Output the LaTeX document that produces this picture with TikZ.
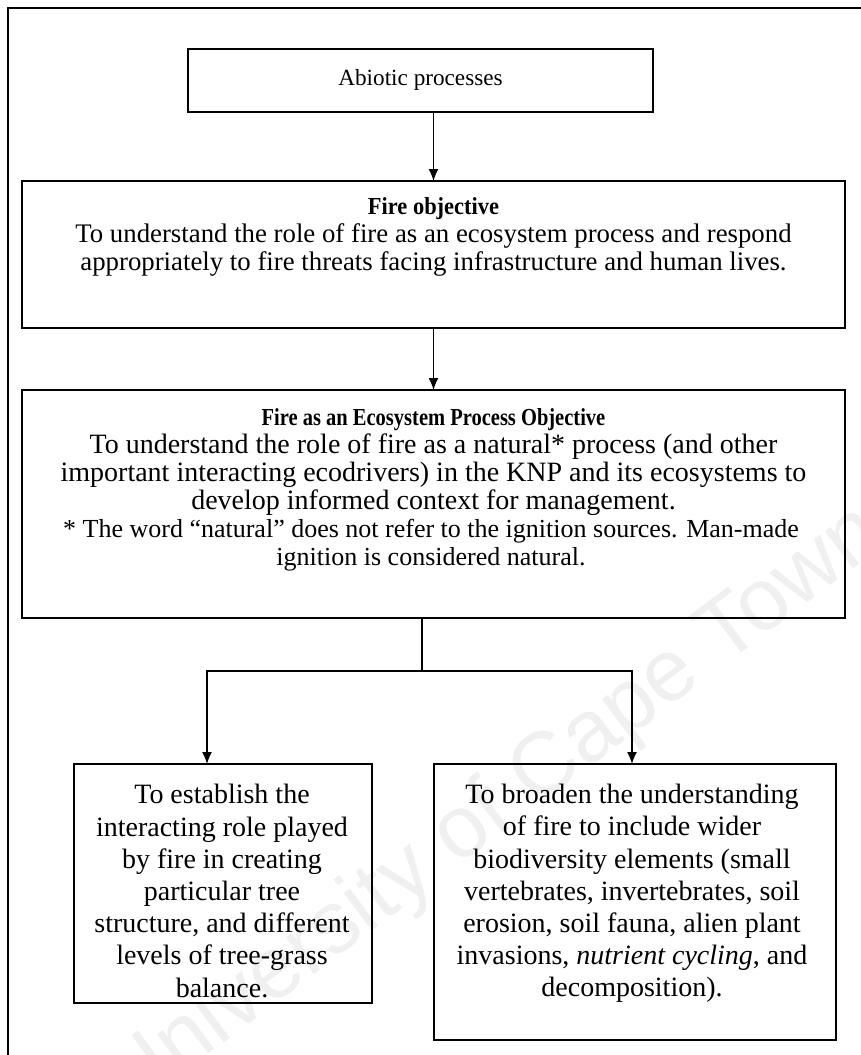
\documentclass[tikz,border=0pt]{standalone}
\usepackage{graphicx}
\usepackage{fontspec}
\setmainfont{Liberation Serif}
\newfontfamily\wmfont{Liberation Sans}
\usetikzlibrary{arrows.meta}

% bold heading of a box, set slightly narrow
\newcommand\boxtitle[2]{\scalebox{#1}[1]{\fontsize{12.2}{13.9}\selectfont\textbf{#2}}}

\tikzset{
  frameline/.style={line width=0.8pt, black},
  box/.style={draw, line width=0.8pt, inner sep=0pt, outer sep=0pt},
  txtsmall/.style={inner sep=0pt, align=center, font=\fontsize{11.6}{13.9}\selectfont},
  txtmid/.style={inner sep=0pt, align=center, font=\fontsize{13.4}{13.9}\selectfont},
  txt/.style={inner sep=0pt, align=center, font=\fontsize{14}{13.9}\selectfont},
  txtwide/.style={inner sep=0pt, align=center, font=\fontsize{14}{16.1}\selectfont},
  note/.style={inner sep=0pt, align=center, font=\fontsize{13}{13.9}\selectfont},
  link/.style={line width=0.7pt},
  arr/.style={line width=0.7pt, -{Latex[length=6pt,width=5pt]}},
}

\begin{document}
\begin{tikzpicture}[x=0.5pt, y=-0.5pt]
\useasboundingbox (0,0) rectangle (861,1055);

% faint background watermark
\node[rotate=37, text=black!6, font=\wmfont\fontsize{44}{50}\selectfont, inner sep=0pt]
  (wm) at (495,810) {University of Cape Town};

% outer frame (runs off the page on the right and bottom)
\draw[frameline] (8,1055) -- (8,8) -- (861,8);

% boxes
\node[box, minimum width=232.5pt, minimum height=31.5pt] (b1) at (420.5,80.5) {};
\node[box, minimum width=411.5pt, minimum height=73.5pt] (b2) at (433.5,254.5) {};
\node[box, minimum width=411.5pt, minimum height=114pt] (b3) at (433.5,504) {};
\node[box, minimum width=149pt, minimum height=119.5pt] (b4) at (223,883.5) {};
\node[box, minimum width=201pt, minimum height=138pt] (b5) at (635,902) {};

% box texts
\node[txtsmall] (t1) at (420.5,80) {Abiotic processes};
\node[txtmid] (t2) at (433.5,237) {\boxtitle{0.92}{Fire objective}\\
  To understand the role of fire as an ecosystem process and respond\\
  appropriately to fire threats facing infrastructure and human lives.};
\node[txt] (t3) at (433.5,462) {\boxtitle{0.84}{Fire as an Ecosystem Process Objective}\\
  To understand the role of fire as a natural* process (and other\\
  important interacting ecodrivers) in the KNP and its ecosystems to\\
  develop informed context for management.};
\node[note] (t3n) at (431,545.5) {* The word “natural” does not refer to the ignition sources. Man-made\\
  ignition is considered natural.};
\node[txtwide] (t4) at (222,891) {To establish the\\
  interacting role played\\
  by fire in creating\\
  particular tree\\
  structure, and different\\
  levels of tree-grass\\
  balance.};
\node[txtwide] (t5) at (632,893.5) {To broaden the understanding\\
  of fire to include wider\\
  biodiversity elements (small\\
  vertebrates, invertebrates, soil\\
  erosion, soil fauna, alien plant\\
  invasions, \textit{nutrient cycling}, and\\
  decomposition).};

% connectors
\draw[arr] (b2.north |- b1.south) -- (b2.north);
\draw[arr] (b2.south) -- (b3.north);

\coordinate (j) at (422,671);
\coordinate (jl) at (207,671);
\coordinate (jr) at (632,671);
\draw[link] (b3.south -| j) -- (j);
\draw[arr] (j) -- (jl) -- (jl |- b4.north);
\draw[arr] (j) -- (jr) -- (jr |- b5.north);
\end{tikzpicture}
\end{document}
